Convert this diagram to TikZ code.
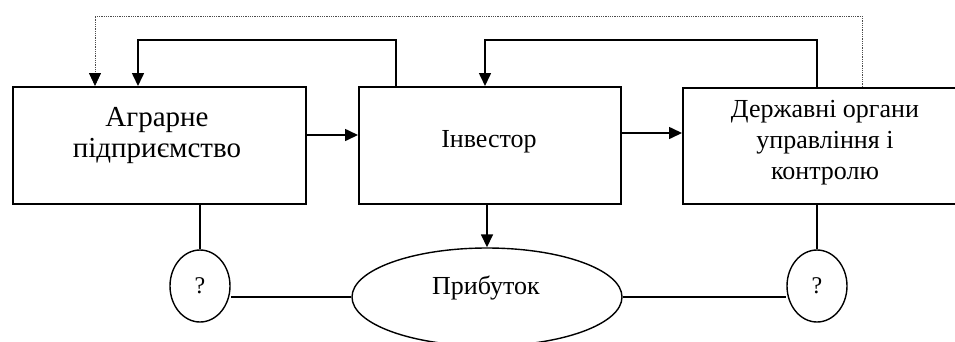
\documentclass[tikz,border=0pt]{standalone}
\usepackage{fontspec}
\setmainfont{Liberation Serif}
\usetikzlibrary{arrows.meta,shapes.geometric}
\begin{document}
\begin{tikzpicture}[x=1pt,y=-1pt,
  box/.style={draw,line width=1.6pt,inner sep=0pt,anchor=north west},
  conn/.style={line width=1.6pt},
  arr/.style={line width=1.6pt,-{Triangle[length=13pt,width=12pt]}},
  dotl/.style={line width=0.8pt,densely dotted,gray!60!black,-{Triangle[length=13pt,width=12pt,black]}},
  txt/.style={font=\fontsize{26}{31}\selectfont,align=center,inner sep=0pt},
  qnode/.style={draw,ellipse,line width=1.4pt,minimum width=60pt,minimum height=72pt,inner sep=0pt,font=\fontsize{24}{26}\selectfont}
]
\useasboundingbox (0,0) rectangle (955,341);
\node[box,minimum width=293pt,minimum height=117pt] (b1) at (12,86) {};
\node[box,minimum width=262pt,minimum height=117pt] (b2) at (358,86) {};
\node[box,minimum width=276pt,minimum height=116pt] (b3) at (682,87) {};
\node[txt,font=\fontsize{29}{31}\selectfont] (t1) at (157,136) {Аграрне\\підприємство};
\node[txt] (t2) at (489,142) {Інвестор};
\node[txt] (t3) at (825,143) {Державні органи\\управління і\\контролю};
\node[qnode] (q1) at (200,286) {?};
\node[qnode] (q2) at (817,286) {?};
\node[draw,ellipse,line width=1.4pt,minimum width=270pt,minimum height=98pt,inner sep=0pt] (p) at (487,297) {};
\node[txt] (pt) at (486,288) {Прибуток};
% forward arrows
\draw[arr] (b1.east |- 0,135) -- (b2.west |- 0,135);
\draw[arr] (b2.east |- 0,133) -- (b3.west |- 0,133);
% feedback loops
\coordinate (f1) at (396,40);
\coordinate (f1e) at (138,40);
\draw[arr] (b2.north -| f1) -- (f1) -- (f1e) -- (b1.north -| f1e);
\coordinate (f2) at (817,40);
\coordinate (f2e) at (485,40);
\draw[arr] (b3.north -| f2) -- (f2) -- (f2e) -- (b2.north -| f2e);
% dotted
\coordinate (d1) at (862,16);
\coordinate (d2) at (95,16);
\draw[dotl] (b3.north -| d1) -- (d1) -- (d2) -- (b1.north -| d2);
% down connections
\draw[conn] (b1.south -| q1) -- (q1.north);
\draw[conn] (b3.south -| q2) -- (q2.north);
\draw[arr] (b2.south -| p) -- (p.north);
\draw[conn] (p.west) -- (p.west -| q1.east);
\draw[conn] (p.east) -- (p.east -| q2.west);
\end{tikzpicture}
\end{document}
